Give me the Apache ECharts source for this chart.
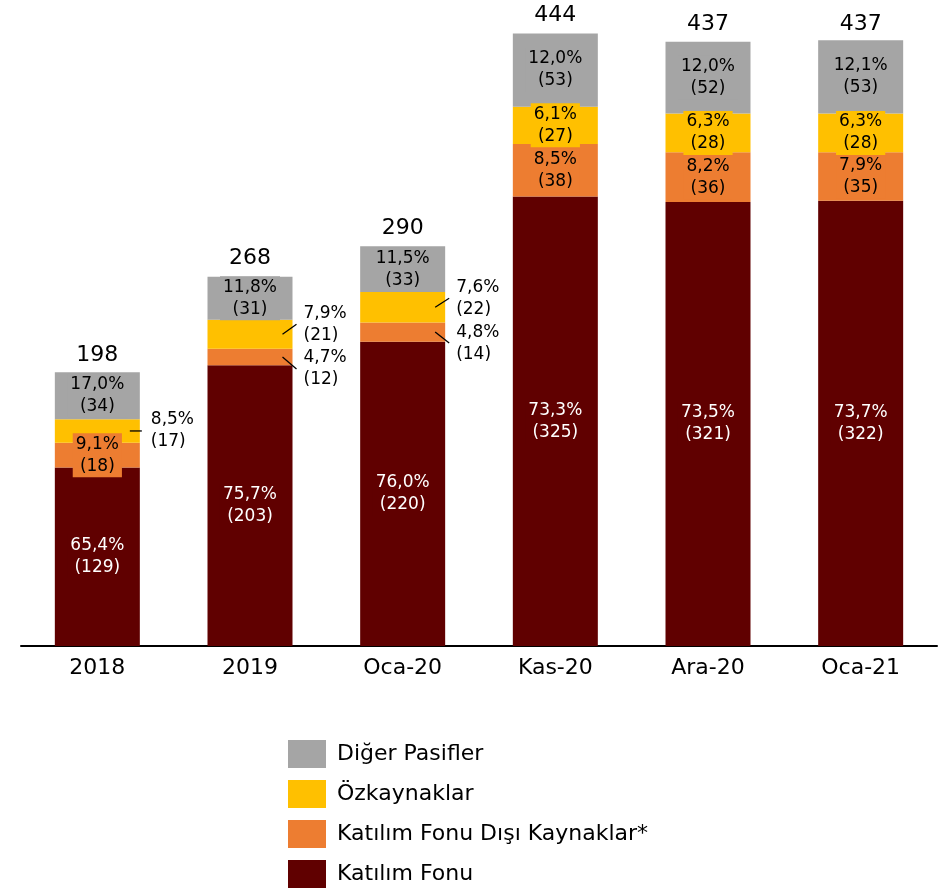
<!DOCTYPE html>
<html>
<head>
<meta charset="utf-8">
<script src="https://cdn.jsdelivr.net/npm/echarts@6/dist/echarts.min.js"></script>
<style>
  html, body { margin: 0; padding: 0; background: #fff; }
  #main { width: 944px; height: 888px; }
</style>
</head>
<body>
<div id="main"></div>
<script>
  // kategoriler
  var categories = ['2018', '2019', 'Oca-20', 'Kas-20', 'Ara-20', 'Oca-21']
  var totals = [198, 268, 290, 444, 437, 437]

  // tutarlar
  var katilimFonu = [129, 203, 220, 325, 321, 322]
  var disiKaynaklar = [18, 12, 14, 38, 36, 35]
  var ozkaynaklar = [17, 21, 22, 27, 28, 28]
  var digerPasifler = [34, 31, 33, 53, 52, 53]

  // yüzdeler
  var katilimFonuPct = [65.4, 75.7, 76.0, 73.3, 73.5, 73.7]
  var disiKaynaklarPct = [9.1, 4.7, 4.8, 8.5, 8.2, 7.9]
  var ozkaynaklarPct = [8.5, 7.9, 7.6, 6.1, 6.3, 6.3]
  var digerPasiflerPct = [17.0, 11.8, 11.5, 12.0, 12.0, 12.1]

  var FONT = '"DejaVu Sans", sans-serif'
  var BAR_W = 85

  // küçük dilimler: etiket dışarıda, kılavuz çizgisiyle (dy = etiketin kayması)
  var outside = {
    ozk: { 0: 0, 1: -10, 2: -9 },
    disi: { 1: 12, 2: 11 }
  }

  function fmt(p, v) {
    return p.toFixed(1).replace('.', ',') + '%\n(' + v + ')'
  }

  function buildData(values, pcts, key) {
    return values.map(function (v, i) {
      var item = { value: v, pct: pcts[i] }
      var o = key && outside[key] ? outside[key][i] : undefined
      if (o !== undefined) {
        item.label = {
          position: 'right',
          distance: 8,
          offset: [0, o],
          align: 'left',
          backgroundColor: 'transparent',
          color: '#000'
        }
      }
      return item
    })
  }

  function barSeries(name, values, pcts, color, textColor, key) {
    return {
      name: name,
      type: 'bar',
      stack: 'total',
      barWidth: BAR_W,
      itemStyle: { color: color },
      label: {
        show: true,
        position: 'inside',
        fontFamily: FONT,
        fontSize: 17,
        lineHeight: 22,
        color: textColor,
        backgroundColor: color,
        padding: [0, 3],
        formatter: function (p) {
          return fmt(p.data.pct, p.data.value)
        }
      },
      emphasis: { disabled: true },
      data: buildData(values, pcts, key)
    }
  }

  // kılavuz çizgileri için nokta listesi
  var leaderData = []
  Object.keys(outside).forEach(function (key) {
    Object.keys(outside[key]).forEach(function (k) {
      var i = +k
      var mid, dy = outside[key][k]
      if (key === 'ozk') {
        mid = katilimFonu[i] + disiKaynaklar[i] + ozkaynaklar[i] / 2
      } else {
        mid = katilimFonu[i] + disiKaynaklar[i] / 2
      }
      leaderData.push([i, mid, dy])
    })
  })

  var chart = echarts.init(document.getElementById('main'))
  chart.setOption({
    animation: false,
    textStyle: { fontFamily: FONT },
    grid: { left: 21, right: 7, top: 32, bottom: 242 },
    legend: {
      orient: 'vertical',
      left: 283,
      top: 735,
      height: 150,
      itemWidth: 38,
      itemHeight: 28,
      itemGap: 12,
      icon: 'rect',
      selectedMode: false,
      textStyle: { fontFamily: FONT, fontSize: 22, color: '#000', padding: [0, 0, 0, 6] },
      data: ['Diğer Pasifler', 'Özkaynaklar', 'Katılım Fonu Dışı Kaynaklar*', 'Katılım Fonu']
    },
    xAxis: {
      type: 'category',
      data: categories,
      axisLine: { lineStyle: { color: '#000', width: 2 } },
      axisTick: { show: false },
      axisLabel: { color: '#000', fontSize: 22, fontFamily: FONT, margin: 11 }
    },
    yAxis: {
      type: 'value',
      min: 0,
      max: 444,
      show: false,
      splitLine: { show: false }
    },
    series: [
      barSeries('Katılım Fonu', katilimFonu, katilimFonuPct, '#600000', '#fff'),
      barSeries('Katılım Fonu Dışı Kaynaklar*', disiKaynaklar, disiKaynaklarPct, '#ED7D31', '#000', 'disi'),
      barSeries('Özkaynaklar', ozkaynaklar, ozkaynaklarPct, '#FFC000', '#000', 'ozk'),
      barSeries('Diğer Pasifler', digerPasifler, digerPasiflerPct, '#A5A5A5', '#000'),
      {
        name: 'toplam',
        type: 'scatter',
        symbolSize: 0,
        silent: true,
        itemStyle: { opacity: 1 },
        label: {
          show: true,
          position: 'top',
          distance: 6,
          color: '#000',
          opacity: 1,
          fontFamily: FONT,
          fontSize: 22
        },
        data: totals
      },
      {
        name: 'kilavuz',
        type: 'custom',
        silent: true,
        z: 5,
        renderItem: function (params, api) {
          var p = api.coord([api.value(0), api.value(1)])
          var dy = api.value(2)
          var right = p[0] + BAR_W / 2
          return {
            type: 'line',
            shape: { x1: right - 10, y1: p[1], x2: right + (dy === 0 ? 2 : 4), y2: p[1] + dy },
            style: { stroke: '#000', lineWidth: 1.3 }
          }
        },
        data: leaderData
      }
    ]
  })
</script>
</body>
</html>
